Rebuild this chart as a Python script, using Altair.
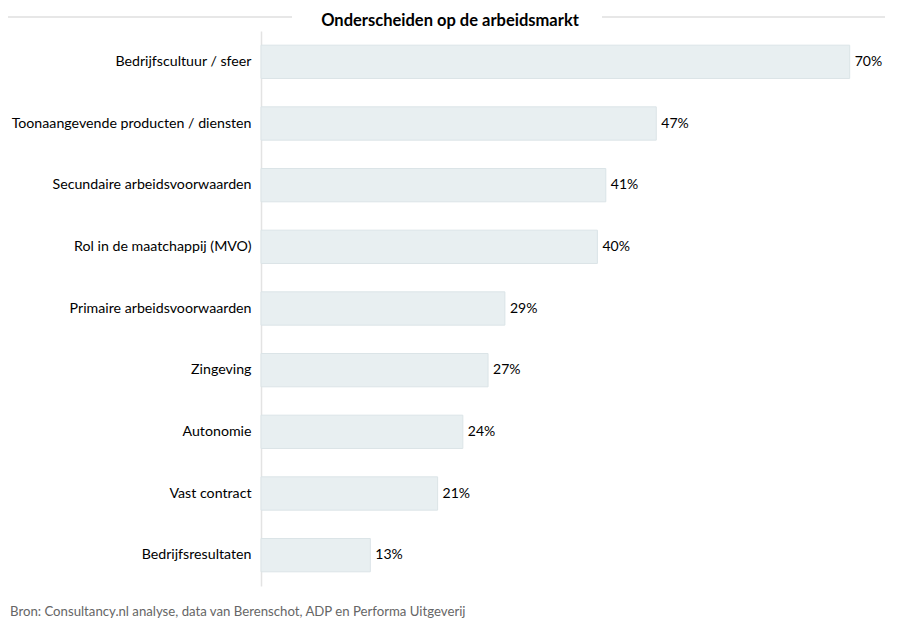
import altair as alt
import pandas as pd

categories = [
    "Bedrijfscultuur / sfeer",
    "Toonaangevende producten / diensten",
    "Secundaire arbeidsvoorwaarden",
    "Rol in de maatchappij (MVO)",
    "Primaire arbeidsvoorwaarden",
    "Zingeving",
    "Autonomie",
    "Vast contract",
    "Bedrijfsresultaten",
]
values = [70, 47, 41, 40, 29, 27, 24, 21, 13]
labels = [f"{v}%" for v in values]

df = pd.DataFrame({"cat": categories, "val": values, "label": labels})

FONT = "Lato"
W = 620
H = 555

y = alt.Y("cat:N", sort=categories, title=None,
          scale=alt.Scale(paddingInner=0.46, paddingOuter=0.23),
          axis=alt.Axis(ticks=False, domain=True, domainColor="#e3e3e3", domainWidth=1.5,
                        labelFont=FONT, labelFontSize=14.2, labelColor="#000000",
                        labelPadding=10, labelLimit=300))
x = alt.X("val:Q", title=None, scale=alt.Scale(domain=[0, W / 8.41]), axis=None)

bars = alt.Chart(df).mark_bar(fill="#e8eff1", stroke="#dbe4e7", strokeWidth=1).encode(x=x, y=y)
text = alt.Chart(df).mark_text(align="left", dx=5, font=FONT, fontSize=14, color="#000000").encode(
    x=x, y=y, text="label:N")

title_df = pd.DataFrame({"t": ["Onderscheiden op de arbeidsmarkt"]})
title = alt.Chart(title_df).mark_text(font=FONT, fontSize=16.5, fontWeight="bold", color="#000000",
                                      align="center", baseline="middle").encode(
    x=alt.value(450 - 261), y=alt.value(-10), text="t:N")
line_l = alt.Chart(title_df).mark_rule(color="#cfcfcf", strokeWidth=1).encode(
    x=alt.value(-253), x2=alt.value(292 - 261), y=alt.value(-14))
line_r = alt.Chart(title_df).mark_rule(color="#cfcfcf", strokeWidth=1).encode(
    x=alt.value(602 - 261), x2=alt.value(885 - 261), y=alt.value(-14))

source = alt.Chart(title_df).mark_text(font=FONT, fontSize=13.2, color="#666666", align="left",
                                       baseline="middle").encode(
    x=alt.value(10 - 261), y=alt.value(612 - 31),
    text=alt.value("Bron: Consultancy.nl analyse, data van Berenschot, ADP en Performa Uitgeverij"))

chart = alt.layer(bars, text, title, line_l, line_r, source).properties(
    width=W, height=H,
    autosize=alt.AutoSizeParams(type="none"),
    padding={"left": 253, "top": 23, "right": 10, "bottom": 40},
).configure(background="white").configure_view(stroke=None, strokeWidth=0)

chart.save("out.html", embed_options={"renderer": "svg", "actions": False})
